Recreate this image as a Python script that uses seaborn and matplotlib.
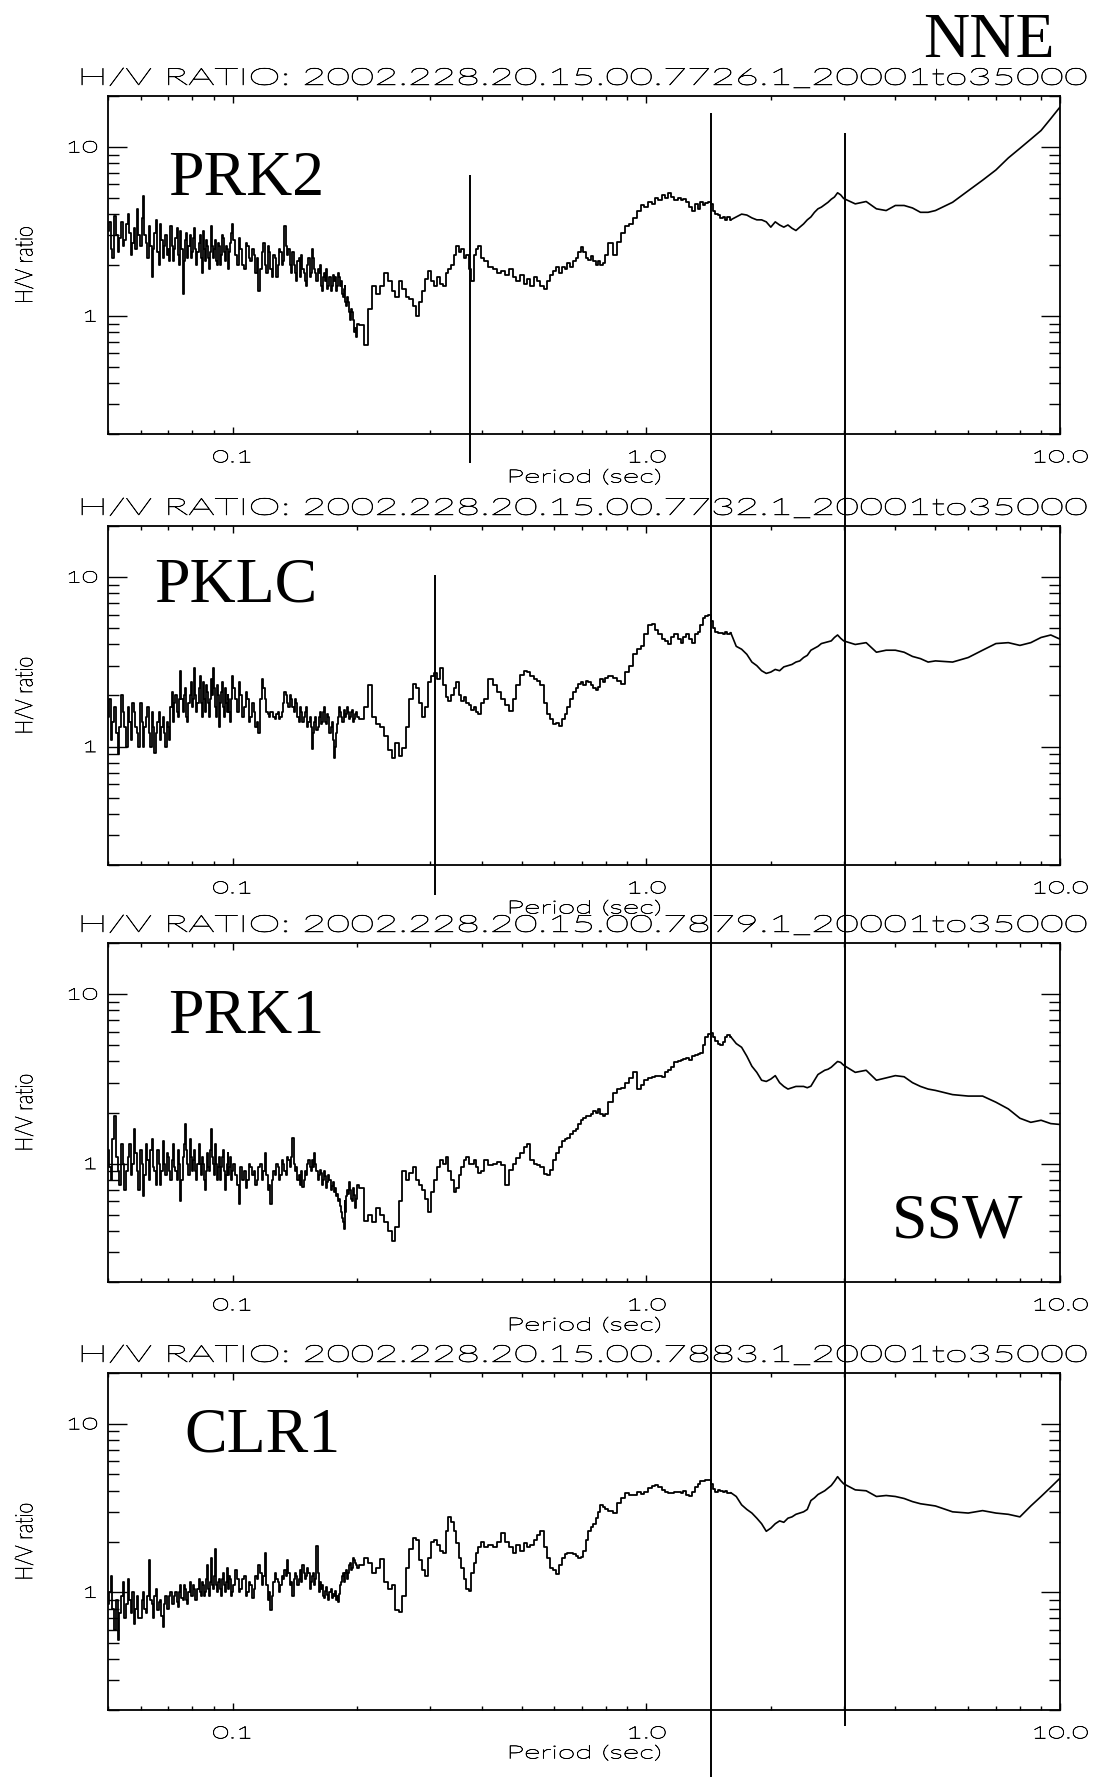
import matplotlib
matplotlib.use("Agg")
import matplotlib.pyplot as plt
from matplotlib.patheffects import AbstractPathEffect
from matplotlib.transforms import Affine2D
from matplotlib.ticker import FixedLocator, FixedFormatter, LogLocator, NullFormatter
import numpy as np
import pandas as pd
import seaborn as sns

# ---------------------------------------------------------------------------
# Data: H/V spectral ratios for four stations, sampled on a common period axis
# ---------------------------------------------------------------------------
PERIOD_S = [
    0.0500, 0.0505, 0.0510, 0.0515, 0.0520, 0.0525, 0.0530, 0.0535, 0.0540, 0.0545,
    0.0550, 0.0555, 0.0560, 0.0565, 0.0570, 0.0575, 0.0580, 0.0585, 0.0590, 0.0595,
    0.0600, 0.0605, 0.0610, 0.0615, 0.0620, 0.0625, 0.0630, 0.0635, 0.0640, 0.0645,
    0.0650, 0.0655, 0.0660, 0.0665, 0.0670, 0.0675, 0.0680, 0.0685, 0.0690, 0.0695,
    0.0700, 0.0705, 0.0710, 0.0715, 0.0720, 0.0725, 0.0730, 0.0735, 0.0740, 0.0745,
    0.0750, 0.0755, 0.0760, 0.0765, 0.0770, 0.0775, 0.0780, 0.0785, 0.0790, 0.0795,
    0.0800, 0.0805, 0.0810, 0.0815, 0.0820, 0.0825, 0.0830, 0.0835, 0.0840, 0.0845,
    0.0850, 0.0855, 0.0860, 0.0865, 0.0870, 0.0875, 0.0880, 0.0885, 0.0890, 0.0895,
    0.0900, 0.0905, 0.0910, 0.0915, 0.0920, 0.0925, 0.0930, 0.0935, 0.0940, 0.0945,
    0.0950, 0.0955, 0.0960, 0.0965, 0.0970, 0.0975, 0.0980, 0.0985, 0.0990, 0.0995,
    0.1000,
    0.101, 0.102, 0.103, 0.104, 0.105, 0.106, 0.107, 0.108, 0.109, 0.110,
    0.111, 0.112, 0.113, 0.114, 0.115, 0.116, 0.117, 0.118, 0.119, 0.120,
    0.121, 0.122, 0.123, 0.124, 0.125, 0.126, 0.127, 0.128, 0.129, 0.130,
    0.131, 0.132, 0.133, 0.134, 0.135, 0.136, 0.137, 0.138, 0.139, 0.140,
    0.141, 0.142, 0.143, 0.144, 0.145, 0.146, 0.147, 0.148, 0.149, 0.150,
    0.151, 0.152, 0.153, 0.154, 0.155, 0.156, 0.157, 0.158, 0.159, 0.160,
    0.161, 0.162, 0.163, 0.164, 0.165, 0.166, 0.167, 0.168, 0.169, 0.170,
    0.171, 0.172, 0.173, 0.174, 0.175, 0.176, 0.177, 0.178, 0.179, 0.180,
    0.181, 0.182, 0.183, 0.184, 0.185, 0.186, 0.187, 0.188, 0.189, 0.190,
    0.191, 0.192, 0.193, 0.194, 0.195, 0.196, 0.197, 0.198, 0.199, 0.200,
    0.205, 0.210, 0.215, 0.220, 0.225, 0.230, 0.235, 0.240, 0.245, 0.250,
    0.255, 0.260, 0.265, 0.270, 0.275, 0.280, 0.285, 0.290, 0.295, 0.300,
    0.305, 0.310, 0.315, 0.320, 0.325, 0.330, 0.335, 0.340, 0.345, 0.350,
    0.355, 0.360, 0.365, 0.370, 0.375, 0.380, 0.385, 0.390, 0.395, 0.400,
    0.41, 0.42, 0.43, 0.44, 0.45, 0.46, 0.47, 0.48, 0.49, 0.50,
    0.51, 0.52, 0.53, 0.54, 0.55, 0.56, 0.57, 0.58, 0.59, 0.60,
    0.61, 0.62, 0.63, 0.64, 0.65, 0.66, 0.67, 0.68, 0.69, 0.70,
    0.71, 0.72, 0.73, 0.74, 0.75, 0.76, 0.77, 0.78, 0.79, 0.80,
    0.82, 0.84, 0.86, 0.88, 0.90, 0.92, 0.94, 0.96, 0.98, 1.00,
    1.02, 1.04, 1.06, 1.08, 1.10, 1.12, 1.14, 1.16, 1.18, 1.20,
    1.22, 1.24, 1.26, 1.28, 1.30, 1.32, 1.34, 1.36, 1.38, 1.40,
    1.42, 1.44, 1.46, 1.48, 1.50, 1.52, 1.54, 1.56, 1.58, 1.60,
    1.65, 1.70, 1.75, 1.80, 1.85, 1.90, 1.95, 2.00, 2.05, 2.10,
    2.15, 2.20, 2.25, 2.30, 2.35, 2.40, 2.45, 2.50, 2.55, 2.60,
    2.65, 2.70, 2.75, 2.80, 2.85, 2.90, 2.95, 3.00,
    3.2, 3.4, 3.6, 3.8, 4.0, 4.2, 4.4, 4.6, 4.8, 5.0,
    5.5, 6.0, 6.5, 7.0, 7.5, 8.0, 8.5, 9.0, 9.5, 10.0,
]

PRK2 = [
    # 0.050 - 0.100 s
    3.2, 3.6, 2.5, 2.2, 3.9, 3.0, 2.4, 2.9, 3.6, 2.6,
    2.8, 3.5, 4.0, 3.1, 2.3, 2.7, 3.3, 2.5, 4.3, 3.0,
    2.6, 3.8, 5.1, 3.0, 2.7, 2.2, 3.4, 2.6, 1.7, 2.5,
    3.1, 3.7, 2.4, 2.0, 3.5, 2.8, 2.2, 2.6, 3.0, 2.3,
    2.5, 2.1, 3.4, 2.6, 2.1, 2.5, 2.9, 3.3, 2.3, 2.0,
    3.2, 2.5, 1.35, 2.1, 2.8, 3.1, 2.2, 2.6, 3.0, 2.2,
    2.4, 2.9, 3.3, 2.5, 2.0, 2.4, 2.7, 3.0, 2.2, 1.8,
    3.2, 2.5, 2.1, 2.8, 2.6, 2.2, 1.9, 2.4, 3.4, 2.6,
    2.2, 2.5, 2.8, 2.1, 2.0, 2.7, 2.6, 2.0, 2.3, 3.0,
    2.9, 2.4, 2.1, 2.6, 2.5, 2.2, 1.9, 2.4, 2.7, 3.1,
    3.5,
    # 0.101 - 0.200 s
    2.8, 2.3, 2.0, 2.9, 2.5, 2.0, 1.9, 2.7, 2.6, 2.2,
    2.1, 2.5, 2.3, 1.8, 2.2, 1.4, 1.9, 2.4, 2.7, 2.0,
    1.8, 2.6, 2.4, 1.9, 1.7, 2.3, 2.2, 1.7, 2.0, 2.5,
    2.4, 2.0, 2.1, 3.4, 2.6, 2.3, 2.5, 2.0, 1.8, 2.4,
    2.0, 1.8, 1.6, 2.1, 2.2, 1.7, 2.3, 1.9, 1.8, 1.6,
    1.5, 2.0, 2.2, 1.7, 1.8, 2.5, 2.2, 1.9, 1.8, 1.6,
    1.9, 1.8, 2.0, 1.5, 1.4, 1.7, 1.8, 1.6, 1.9, 1.45,
    1.5, 1.7, 1.4, 1.5, 1.75, 1.6, 1.7, 1.4, 1.5, 1.8,
    1.7, 1.5, 1.6, 1.35, 1.3, 1.45, 1.5, 1.2, 1.15, 1.3,
    1.2, 1.05, 0.95, 1.1, 1.05, 0.95, 0.8, 0.85, 0.75, 0.9,
    # 0.205 - 0.400 s
    0.88, 0.67, 1.1, 1.5, 1.35, 1.5, 1.8, 1.6, 1.4, 1.3,
    1.6, 1.45, 1.3, 1.25, 1.15, 1.0, 1.2, 1.4, 1.65, 1.85,
    1.6, 1.5, 1.7, 1.55, 1.5, 1.8, 1.9, 2.0, 2.3, 2.6,
    2.4, 2.5, 2.2, 2.3, 1.9, 1.6, 2.3, 2.5, 2.6, 2.2,
    # 0.41 - 0.80 s
    2.1, 1.95, 1.9, 1.8, 1.85, 1.75, 1.9, 1.7, 1.6, 1.75,
    1.55, 1.65, 1.5, 1.7, 1.6, 1.5, 1.45, 1.6, 1.75, 1.85,
    1.95, 1.8, 1.95, 1.9, 2.05, 1.95, 2.1, 2.2, 2.4, 2.55,
    2.4, 2.2, 2.15, 2.25, 2.1, 2.0, 2.1, 2.0, 2.05, 2.3,
    # 0.82 - 1.60 s
    2.7, 2.3, 2.75, 3.1, 3.4, 3.5, 3.8, 4.2, 4.5, 4.4,
    4.7, 4.6, 4.95, 4.85, 5.2, 4.95, 5.3, 5.05, 4.85, 4.95,
    4.85, 4.9, 4.7, 4.4, 4.2, 4.6, 4.3, 4.7, 4.5, 4.65,
    4.7, 4.6, 4.2, 4.0, 3.95, 3.8, 3.85, 3.7, 3.85, 3.7,
    # 1.65 - 3.00 s
    3.85, 4.0, 3.95, 3.8, 3.7, 3.7, 3.6, 3.35, 3.6, 3.45,
    3.35, 3.45, 3.3, 3.2, 3.35, 3.5, 3.7, 3.85, 4.1, 4.3,
    4.4, 4.55, 4.7, 4.9, 5.05, 5.35, 5.2, 4.95,
    # 3.2 - 10 s
    4.6, 4.75, 4.3, 4.2, 4.5, 4.5, 4.35, 4.1, 4.1, 4.2,
    4.7, 5.5, 6.35, 7.3, 8.6, 9.8, 11.1, 12.5, 14.7, 17.2,
]

PKLC = [
    # 0.050 - 0.100 s
    1.5, 1.9, 1.1, 1.4, 1.7, 1.2, 0.9, 1.3, 2.0, 1.6,
    1.3, 1.0, 1.7, 1.4, 1.1, 1.8, 1.6, 1.3, 1.2, 1.0,
    1.8, 1.4, 1.0, 1.3, 1.5, 1.7, 1.2, 1.0, 1.6, 1.3,
    0.92, 1.2, 1.4, 1.6, 1.1, 1.3, 1.5, 1.2, 1.0, 1.4,
    1.3, 1.1, 1.7, 2.1, 1.4, 1.8, 2.0, 1.6, 1.5, 1.9,
    2.8, 1.9, 1.6, 2.0, 2.2, 1.5, 1.4, 1.8, 2.0, 2.4,
    1.7, 1.9, 2.9, 2.0, 1.6, 1.8, 2.2, 2.6, 1.8, 1.5,
    2.4, 1.9, 1.6, 2.3, 2.1, 1.8, 1.5, 1.9, 2.5, 2.0,
    2.9, 2.2, 1.7, 1.5, 2.3, 2.0, 1.3, 1.8, 2.1, 2.4,
    1.7, 1.5, 2.2, 1.8, 1.6, 2.0, 1.9, 1.6, 1.4, 1.9,
    2.6,
    # 0.101 - 0.200 s
    2.2, 1.9, 1.6, 2.4, 2.0, 1.5, 1.7, 2.1, 1.9, 1.4,
    1.5, 1.8, 1.6, 1.3, 1.4, 1.2, 1.9, 2.5, 2.2, 1.9,
    1.6, 1.55, 1.5, 1.6, 1.6, 1.5, 1.45, 1.55, 1.6, 1.45,
    1.5, 1.6, 1.8, 2.1, 2.0, 1.8, 1.7, 2.0, 1.9, 1.7,
    1.6, 1.9, 1.8, 1.5, 1.4, 1.7, 1.6, 1.4, 1.5, 1.6,
    1.7, 1.3, 1.4, 1.5, 1.3, 0.97, 1.2, 1.4, 1.5, 1.25,
    1.3, 1.5, 1.6, 1.35, 1.4, 1.6, 1.7, 1.4, 1.35, 1.55,
    1.5, 1.2, 1.3, 1.4, 1.1, 0.85, 1.0, 1.2, 1.35, 1.5,
    1.7, 1.6, 1.5, 1.4, 1.4, 1.65, 1.6, 1.5, 1.55, 1.7,
    1.6, 1.45, 1.5, 1.6, 1.65, 1.4, 1.45, 1.55, 1.6, 1.5,
    # 0.205 - 0.400 s
    1.45, 1.7, 2.3, 1.5, 1.35, 1.3, 1.15, 0.95, 0.85, 1.05,
    0.88, 0.98, 1.3, 1.9, 2.35, 2.2, 1.8, 1.5, 1.7, 2.4,
    2.6, 2.7, 2.5, 2.9, 2.3, 1.95, 1.85, 2.0, 2.2, 2.4,
    2.0, 1.85, 1.95, 1.8, 1.75, 1.65, 1.7, 1.6, 1.55, 1.8,
    # 0.41 - 0.80 s
    1.9, 2.5, 2.3, 2.1, 1.9, 1.75, 1.63, 1.9, 2.3, 2.65,
    2.8, 2.75, 2.6, 2.5, 2.45, 2.3, 1.8, 1.55, 1.45, 1.36,
    1.38, 1.33, 1.45, 1.55, 1.7, 1.9, 2.1, 2.2, 2.35, 2.4,
    2.3, 2.45, 2.4, 2.3, 2.2, 2.15, 2.25, 2.5, 2.4, 2.55,
    # 0.82 - 1.60 s
    2.6, 2.55, 2.45, 2.35, 2.75, 3.0, 3.5, 3.75, 3.9, 4.6,
    5.2, 5.3, 4.9, 4.6, 4.3, 4.2, 4.05, 4.4, 4.6, 4.3,
    4.1, 4.45, 4.6, 4.3, 4.1, 4.6, 4.75, 5.2, 5.7, 5.9,
    5.95, 5.5, 5.0, 4.75, 4.65, 4.7, 4.6, 4.75, 4.6, 4.7,
    # 1.65 - 3.00 s
    3.9, 3.75, 3.5, 3.15, 3.0, 2.8, 2.7, 2.75, 2.85, 2.8,
    2.95, 3.0, 3.05, 3.15, 3.2, 3.35, 3.45, 3.7, 3.8, 3.9,
    4.05, 4.1, 4.15, 4.2, 4.4, 4.55, 4.35, 4.2,
    # 3.2 - 10 s
    4.0, 4.1, 3.6, 3.7, 3.7, 3.6, 3.4, 3.3, 3.15, 3.2,
    3.15, 3.35, 3.7, 4.05, 4.1, 3.95, 4.1, 4.4, 4.55, 4.3,
]

PRK1 = [
    # 0.050 - 0.100 s
    1.2, 0.95, 0.8, 1.4, 1.9, 1.1, 0.9, 0.75, 1.3, 1.0,
    0.7, 0.9, 1.1, 1.3, 0.85, 1.0, 1.6, 1.15, 0.9, 0.7,
    1.2, 1.0, 0.64, 0.85, 1.3, 1.05, 0.8, 1.2, 1.4, 0.95,
    0.9, 0.75, 1.2, 1.0, 0.75, 0.9, 1.35, 1.0, 0.85, 1.15,
    1.1, 0.9, 0.8, 1.05, 1.3, 0.95, 0.9, 0.8, 1.2, 1.0,
    0.6, 0.8, 1.1, 1.3, 1.7, 1.2, 1.0, 0.85, 1.4, 1.1,
    0.9, 1.05, 1.2, 0.9, 0.8, 1.0, 1.3, 1.0, 0.85, 1.1,
    1.0, 0.8, 0.7, 0.9, 1.15, 0.95, 0.9, 1.2, 1.6, 1.1,
    1.0, 0.85, 1.3, 1.0, 0.8, 0.95, 1.1, 0.8, 0.95, 1.1,
    1.2, 0.9, 0.7, 0.85, 1.0, 1.15, 0.85, 0.95, 1.1, 0.8,
    0.9,
    # 0.101 - 0.200 s
    1.0, 0.85, 0.75, 0.58, 0.95, 0.8, 0.9, 0.72, 0.8, 1.0,
    0.95, 0.85, 0.9, 0.75, 0.8, 0.95, 1.0, 0.8, 0.9, 1.15,
    0.85, 0.7, 0.75, 0.58, 0.8, 0.9, 0.85, 1.0, 0.95, 0.8,
    0.85, 1.05, 1.0, 0.9, 0.85, 1.1, 1.05, 0.95, 1.1, 1.42,
    1.0, 0.9, 0.95, 0.8, 0.85, 0.75, 0.9, 0.73, 0.8, 0.9,
    0.85, 1.0, 1.05, 0.95, 0.9, 1.05, 0.95, 1.16, 1.0, 0.9,
    0.8, 0.85, 0.92, 0.88, 0.75, 0.8, 0.9, 0.84, 0.72, 0.78,
    0.85, 0.8, 0.7, 0.74, 0.78, 0.68, 0.72, 0.64, 0.66, 0.6,
    0.62, 0.56, 0.52, 0.48, 0.45, 0.41, 0.6, 0.52, 0.64, 0.7,
    0.66, 0.78, 0.7, 0.62, 0.6, 0.72, 0.65, 0.55, 0.62, 0.75,
    # 0.205 - 0.400 s
    0.72, 0.46, 0.5, 0.45, 0.55, 0.5, 0.45, 0.4, 0.35, 0.42,
    0.6, 0.9, 0.8, 0.88, 0.95, 0.8, 0.75, 0.7, 0.62, 0.52,
    0.68, 0.8, 0.95, 1.05, 1.0, 1.1, 0.9, 0.8, 0.68, 0.72,
    0.85, 0.95, 1.05, 1.1, 1.0, 1.0, 1.05, 0.95, 0.88, 0.9,
    # 0.41 - 0.80 s
    1.05, 0.98, 1.0, 1.02, 0.98, 0.75, 0.92, 1.0, 1.08, 1.15,
    1.25, 1.3, 1.05, 1.0, 0.98, 0.95, 0.87, 0.86, 0.92, 1.05,
    1.15, 1.25, 1.35, 1.4, 1.42, 1.5, 1.55, 1.6, 1.7, 1.8,
    1.85, 1.9, 1.9, 1.95, 2.05, 2.0, 2.1, 1.95, 1.9, 1.95,
    # 0.82 - 1.60 s
    2.3, 2.6, 2.75, 2.8, 3.0, 3.2, 3.45, 2.75, 2.9, 3.1,
    3.2, 3.25, 3.3, 3.3, 3.25, 3.45, 3.55, 3.7, 3.95, 4.0,
    4.1, 4.15, 4.2, 4.1, 4.3, 4.35, 4.4, 4.5, 5.0, 5.6,
    5.8, 5.9, 5.6, 5.3, 5.1, 5.0, 5.2, 5.55, 5.7, 5.6,
    # 1.65 - 3.00 s
    5.1, 4.85, 4.3, 3.75, 3.45, 3.1, 3.05, 3.15, 3.3, 3.0,
    2.85, 2.75, 2.8, 2.85, 2.85, 2.85, 2.8, 2.86, 3.1, 3.35,
    3.45, 3.55, 3.6, 3.7, 3.85, 4.0, 3.95, 3.8,
    # 3.2 - 10 s
    3.45, 3.55, 3.1, 3.2, 3.3, 3.25, 3.0, 2.85, 2.75, 2.7,
    2.55, 2.5, 2.5, 2.3, 2.1, 1.85, 1.75, 1.8, 1.72, 1.7,
]

CLR1 = [
    # 0.050 - 0.100 s
    0.85, 1.0, 1.25, 0.8, 0.6, 0.9, 0.52, 0.75, 0.95, 1.15,
    0.7, 0.85, 1.2, 0.9, 0.75, 1.0, 0.65, 0.8, 0.95, 0.7,
    0.7, 0.9, 1.0, 0.8, 0.75, 0.95, 1.55, 0.9, 0.85, 0.7,
    0.95, 1.05, 0.78, 0.88, 0.9, 0.72, 0.62, 0.85, 0.95, 0.8,
    0.8, 0.95, 1.0, 0.85, 0.85, 0.95, 1.0, 0.88, 0.82, 1.0,
    1.1, 0.92, 0.9, 1.1, 1.05, 0.9, 0.85, 1.0, 1.15, 0.95,
    0.95, 1.1, 1.05, 0.9, 0.9, 1.05, 1.2, 1.0, 0.95, 1.15,
    1.1, 0.95, 1.0, 1.2, 1.45, 1.05, 0.95, 1.15, 1.6, 1.1,
    1.05, 1.25, 1.8, 1.1, 1.0, 1.15, 1.2, 1.05, 0.95, 1.2,
    1.3, 1.1, 1.0, 1.15, 1.4, 1.1, 1.05, 1.25, 1.2, 0.95,
    1.0,
    # 0.101 - 0.200 s
    1.1, 1.35, 1.2, 1.0, 1.05, 1.2, 1.25, 0.95, 1.0, 1.15,
    1.1, 0.92, 1.05, 1.25, 1.2, 1.45, 1.3, 1.1, 1.25, 1.72,
    1.1, 0.9, 1.0, 0.78, 0.95, 1.15, 1.3, 1.2, 1.15, 1.0,
    1.1, 1.25, 1.2, 1.35, 1.25, 1.55, 1.3, 1.1, 1.15, 0.95,
    1.2, 1.3, 1.25, 1.1, 1.2, 1.35, 1.15, 1.45, 1.3, 1.2,
    1.25, 1.4, 1.3, 1.05, 1.15, 1.25, 1.3, 1.1, 1.2, 1.88,
    1.3, 1.0, 1.15, 1.05, 1.1, 0.95, 0.92, 1.02, 1.08, 0.96,
    0.9, 1.0, 1.05, 0.93, 0.98, 0.95, 1.02, 0.9, 0.95, 0.88,
    0.98, 1.1, 1.15, 1.25, 1.3, 1.15, 1.2, 1.3, 1.35, 1.2,
    1.3, 1.45, 1.5, 1.35, 1.4, 1.6, 1.55, 1.5, 1.45, 1.4,
    # 0.205 - 0.400 s
    1.45, 1.6, 1.5, 1.3, 1.4, 1.57, 1.15, 1.05, 1.1, 0.78,
    0.76, 0.95, 1.4, 1.8, 2.1, 2.05, 1.55, 1.35, 1.25, 1.6,
    2.0, 2.05, 1.9, 1.75, 1.7, 2.3, 2.8, 2.6, 2.3, 1.95,
    1.6, 1.4, 1.2, 1.05, 1.02, 1.3, 1.5, 1.7, 1.85, 2.0,
    # 0.41 - 0.80 s
    1.85, 1.9, 1.85, 2.0, 2.25, 2.0, 1.85, 1.7, 1.9, 1.75,
    1.95, 1.85, 1.9, 2.05, 2.2, 2.3, 1.85, 1.6, 1.4, 1.35,
    1.28, 1.45, 1.6, 1.68, 1.7, 1.72, 1.68, 1.65, 1.6, 1.62,
    1.75, 2.05, 2.3, 2.45, 2.55, 2.75, 3.0, 3.3, 3.2, 3.1,
    # 0.82 - 1.60 s
    3.05, 2.95, 3.4, 3.6, 3.9, 3.8, 3.75, 3.95, 3.85, 3.95,
    4.15, 4.25, 4.35, 4.2, 4.05, 3.95, 3.9, 3.9, 3.95, 3.95,
    3.9, 4.0, 3.8, 3.7, 3.95, 4.2, 4.4, 4.55, 4.6, 4.65,
    4.65, 4.4, 4.1, 3.95, 4.05, 4.0, 3.95, 4.0, 3.9, 3.9,
    # 1.65 - 3.00 s
    3.7, 3.3, 3.1, 2.95, 2.75, 2.55, 2.3, 2.4, 2.55, 2.65,
    2.6, 2.75, 2.8, 2.9, 2.95, 3.0, 3.1, 3.5, 3.63, 3.8,
    3.9, 4.0, 4.15, 4.3, 4.55, 4.85, 4.6, 4.4,
    # 3.2 - 10 s
    4.05, 4.0, 3.7, 3.75, 3.7, 3.6, 3.45, 3.35, 3.3, 3.25,
    3.0, 2.95, 3.05, 2.95, 2.9, 2.8, 3.25, 3.7, 4.2, 4.75,
]

STATIONS = ["PRK2", "PKLC", "PRK1", "CLR1"]
RECORD_IDS = ["7726", "7732", "7879", "7883"]
X_TICKS = [0.1, 1.0, 10.0]
X_TICK_LABELS = ["0.1", "1.0", "10.0"]
Y_TICKS = [1.0, 10.0]
Y_TICK_LABELS = ["1", "10"]
LONG_MARKERS_S = [1.43, 3.03]        # periods marked across every panel
SHORT_MARKERS_S = [0.375, 0.309]     # period marked on PRK2 and on PKLC
STEP_LIMIT_S = 1.6                   # finely sampled band drawn as a histogram trace

for series in (PRK2, PKLC, PRK1, CLR1):
    assert len(series) == len(PERIOD_S), len(series)

# ---------------------------------------------------------------------------
# Layout (pixels of the 1106 x 1777 canvas, measured from the top)
# ---------------------------------------------------------------------------
W_PX, H_PX = 1106, 1777
AX_LEFT_PX, AX_RIGHT_PX = 108, 1060
PANEL_PX = [(96, 434), (526, 865), (943, 1282), (1373, 1710)]
STATION_LABEL_PX = [(168, 195), (154, 601), (168, 1033), (184, 1452)]
LONG_SPAN_PX = [(113, 1777), (133, 1726)]
SHORT_SPAN_PX = [(175, 463), (575, 895)]
TITLE_WIDTH_PX = 1014


class WideGlyphs(AbstractPathEffect):
    """Draw a text's glyphs widened horizontally about the text's anchor,
    with a thin outline so the strokes read as even pen lines."""

    def __init__(self, text, factor, stroke=0.45):
        super().__init__()
        self._text = text
        self._factor = factor
        self._stroke = stroke

    def draw_path(self, renderer, gc, tpath, affine, rgbFace=None):
        x0, _ = self._text.get_transform().transform(self._text.get_unitless_position())
        widen = Affine2D().translate(-x0, 0).scale(self._factor, 1.0).translate(x0, 0)
        gc0 = renderer.new_gc()
        gc0.copy_properties(gc)
        gc0.set_linewidth(self._stroke)
        gc0.set_foreground(rgbFace if rgbFace is not None else "black")
        gc0.set_joinstyle("round")
        renderer.draw_path(gc0, tpath, affine + widen, rgbFace)
        gc0.restore()


sns.set_theme(style="ticks")
plt.rcParams["font.family"] = ["Lato", "DejaVu Sans"]
plt.rcParams.update({
    "font.weight": "light",
    "axes.titleweight": "light",
    "axes.labelweight": "light",
    "axes.edgecolor": "black",
    "axes.linewidth": 1.3,
    "xtick.color": "black",
    "ytick.color": "black",
    "text.color": "black",
    "axes.labelcolor": "black",
    "figure.facecolor": "white",
    "axes.facecolor": "white",
})

df = pd.DataFrame({
    "period": PERIOD_S * len(STATIONS),
    "ratio": PRK2 + PKLC + PRK1 + CLR1,
    "station": np.repeat(STATIONS, len(PERIOD_S)),
})

fig = plt.figure(figsize=(W_PX / 100, H_PX / 100), dpi=100)

ax_left = AX_LEFT_PX / W_PX
ax_width = (AX_RIGHT_PX - AX_LEFT_PX) / W_PX
axes, titles = [], []
for i, (station, rec) in enumerate(zip(STATIONS, RECORD_IDS)):
    top, bottom = PANEL_PX[i]
    ax = fig.add_axes([ax_left, 1 - bottom / H_PX, ax_width, (bottom - top) / H_PX])
    ax.set_xscale("log")
    ax.set_yscale("log")
    sub = df[df["station"] == station]
    short = sub[sub["period"] <= STEP_LIMIT_S]
    long_ = sub[sub["period"] >= STEP_LIMIT_S]
    sns.lineplot(data=short, x="period", y="ratio", ax=ax, color="black",
                 linewidth=1.3, estimator=None, legend=False, drawstyle="steps-mid")
    sns.lineplot(data=long_, x="period", y="ratio", ax=ax, color="black",
                 linewidth=1.2, estimator=None, legend=False)
    ax.set_xlim(0.05, 10.0)
    ax.set_ylim(0.2, 20.0)

    ax.xaxis.set_major_locator(FixedLocator(X_TICKS))
    ax.xaxis.set_major_formatter(FixedFormatter(X_TICK_LABELS))
    ax.xaxis.set_minor_locator(LogLocator(base=10, subs=np.arange(2, 10) * 1.0, numticks=20))
    ax.xaxis.set_minor_formatter(NullFormatter())
    ax.yaxis.set_major_locator(FixedLocator(Y_TICKS))
    ax.yaxis.set_major_formatter(FixedFormatter(Y_TICK_LABELS))
    ax.yaxis.set_minor_locator(LogLocator(base=10, subs=np.arange(2, 10) * 1.0, numticks=20))
    ax.yaxis.set_minor_formatter(NullFormatter())

    ax.tick_params(which="both", direction="in", top=True, right=True, width=1.0)
    ax.tick_params(axis="x", which="major", length=5, pad=11, labelsize=12)
    ax.tick_params(axis="x", which="minor", length=3)
    ax.tick_params(axis="y", which="major", length=14, pad=7, labelsize=11.5)
    ax.tick_params(axis="y", which="minor", length=8)
    for side in ax.spines.values():
        side.set_visible(True)
        side.set_linewidth(1.3)

    titles.append(ax.set_title(f"H/V RATIO: 2002.228.20.15.00.{rec}.1_20001to35000",
                               fontsize=17, pad=8, fontweight="light"))
    ax.set_xlabel("Period (sec)", fontsize=13, labelpad=3, fontweight="light")
    ax.set_ylabel("H/V ratio", fontsize=14, fontweight="light")
    ax.yaxis.set_label_coords(-0.0861, 0.5)
    ax.yaxis.label.set_va("center")
    axes.append(ax)

    lx, ly = STATION_LABEL_PX[i]
    fig.text(lx / W_PX, 1 - ly / H_PX, station, family="Liberation Serif",
             fontsize=46, fontweight="normal", ha="left", va="baseline")

# Orientation labels
fig.text(923 / W_PX, 1 - 57 / H_PX, "NNE", family="Liberation Serif",
         fontsize=46, fontweight="normal", ha="left", va="baseline")
fig.text(892 / W_PX, 1 - 1238 / H_PX, "SSW", family="Liberation Serif",
         fontsize=46, fontweight="normal", ha="left", va="baseline")

# Transparent overlay sharing the period axis, for the marker lines
overlay = fig.add_axes([ax_left, 0.0, ax_width, 1.0], facecolor="none")
overlay.set_xscale("log")
overlay.set_xlim(0.05, 10.0)
overlay.set_ylim(0.0, 1.0)
overlay.axis("off")
for period, (y0, y1) in zip(LONG_MARKERS_S, LONG_SPAN_PX):
    overlay.vlines(period, 1 - y1 / H_PX, 1 - y0 / H_PX, color="black", linewidth=1.4)
for period, (y0, y1) in zip(SHORT_MARKERS_S, SHORT_SPAN_PX):
    overlay.vlines(period, 1 - y1 / H_PX, 1 - y0 / H_PX, color="black", linewidth=1.4)

# Widen the plot-annotation lettering to the plotter's broad letterforms
fig.canvas.draw()
factor = TITLE_WIDTH_PX / titles[0].get_window_extent().width
for ax in axes:
    wide_texts = [ax.title, ax.xaxis.label] + ax.get_xticklabels() + ax.get_yticklabels()
    for t in wide_texts:
        t.set_path_effects([WideGlyphs(t, factor)])
    ax.yaxis.label.set_path_effects([WideGlyphs(ax.yaxis.label, 1.25)])

fig.savefig("out.png", dpi=100, facecolor="white")
